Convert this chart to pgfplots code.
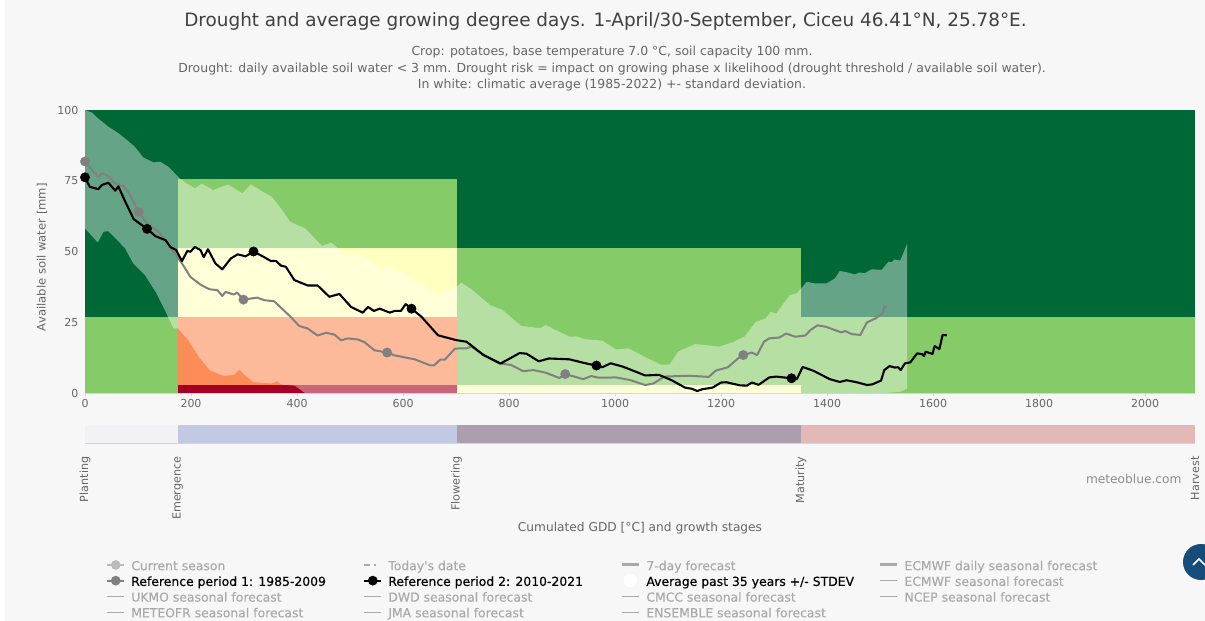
\documentclass[border=0pt]{standalone}
\usepackage{fontspec}
\usepackage{pgfplots}
\pgfplotsset{compat=1.18}
\setmainfont{DejaVu Sans}
\newfontfamily\legf[FakeBold=0.35]{DejaVu Sans}
\definecolor{pagebg}{HTML}{F7F7F7}
\definecolor{dkgreen}{HTML}{006837}
\definecolor{ltgreen}{HTML}{85CB67}
\definecolor{paleyel}{HTML}{FFFFBF}
\definecolor{orng}{HTML}{FC8D59}
\definecolor{dkred}{HTML}{A50026}
\definecolor{axl}{HTML}{CCD6EB}
\definecolor{txt}{HTML}{666666}
\definecolor{off}{HTML}{AAAAAA}
\definecolor{lin}{HTML}{808080}
\newcommand{\leg}[2]{\makebox[238pt][l]{\hspace*{6pt}\rule[-4pt]{0pt}{16pt}\textcolor{#1}{#2}}}
\pgfplotstableread{
x y
0 100
13 99.1
25 97
44 94.1
63 91.8
79 89.4
94 87
110 83.2
129 81.5
142 81.7
157 80
179 75.8
189 74.4
208 72.3
220 74
242 71.7
270 73.7
297 70.5
313 73.7
333 71.4
352 69.4
368 65.6
387 60.5
415 58.2
447 52
465 53.1
497 48.2
503 49.3
535 47.5
557 43.7
572 44.6
607 42
667 34.6
683 36.4
698 37
710 39
729 36.6
765 31
788 29.3
823 23.7
859 22.9
869 24
914 19.9
927 20
944 19
976 18.5
1002 15.4
1025 15.8
1054 13
1086 10
1103 10
1119 14.6
1151 17.3
1197 16.4
1223 18
1245 20
1265 25
1284 26.4
1294 28.7
1304 28
1311 29.9
1330 34.6
1343 35.2
1362 39.3
1377 38.7
1399 38.7
1415 40.5
1424 43.1
1437 42.7
1452 41.9
1462 42.6
1471 42.3
1484 43.7
1503 43.5
1516 46.4
1522 46.2
1527 47.2
1538 46.8
1544 49.4
1551 52.7
1551 1.6
1538 0.4
1510 0
415 0
396 2.6
371 3
362 4.2
352 3.4
318 3.8
302 6.3
291 8.3
280 6.3
261 6.1
236 8
217 12.2
195 18.7
175 22.8
167 22.8
154 28
135 35.2
113 41.7
91 45.8
75 51.3
44 57.2
35 57
24 53.2
0 58.2
}\bandtable
\pgfplotstableread{
x y
0 76.2
9 72.9
25 72
32 73.5
44 74.3
57 71.5
63 73
76 67.6
92 61.4
117 58
133 55.4
152 54
161 51.6
172 50.5
183 46.6
193 50.2
199 49.9
207 51.6
218 50.5
224 48
232 50.8
246 45.8
259 43.7
275 47.5
288 49
303 48.3
318 50
338 48
351 46.6
360 46.7
370 45
379 44.6
395 39.9
420 38
439 38
461 34
480 35
502 30.4
524 28.4
534 30.4
545 29
556 29.8
575 28.4
584 29
596 29
605 31.4
616 29.8
635 26.9
666 20.4
700 18.7
720 18.1
752 13.4
784 10.4
820 14.1
833 13.9
856 11.2
875 12.2
914 11.9
944 10.5
965 9.7
976 9.1
992 10.5
1015 9.3
1057 6.2
1083 6.4
1106 4.6
1132 1.9
1145 1.5
1155 0.7
1164 1.3
1184 1.9
1200 3.7
1210 3.8
1236 2.7
1249 2.6
1258 3.7
1271 2.9
1291 5.5
1304 5.8
1333 5.2
1343 4.9
1354 9.2
1375 7.8
1405 4.9
1424 3.9
1437 4.5
1456 3.8
1476 2.8
1486 3.1
1502 4.4
1508 8.1
1518 9.5
1528 9
1534 9.1
1539 8.1
1547 10.5
1557 10.8
1570 14
1580 13.7
1583 13
1586 14.6
1599 13.8
1603 16.6
1612 15.5
1618 20.5
1626 20.4
}\refb
\pgfplotstableread{
x y
0 81.8
13 78.8
25 76.4
32 77.6
41 77
57 74
73 73.1
85 70
101 64
117 60
139 57
152 54
167 49.9
183 45.8
199 41
218 38.3
234 36.7
250 36.3
259 34.3
265 35.7
281 34.8
287 35.5
299 33
325 33.7
338 32.8
357 32.4
388 26.9
404 23.7
420 22.8
439 20.3
455 21.3
471 20.6
483 18.6
496 19.3
515 18.9
527 18
546 15.1
570 14.3
584 13.3
622 11.9
651 9.8
659 9.8
670 11.8
679 11.8
698 15.7
720 15.8
729 16.4
752 13.4
781 10.5
804 9.9
827 7.7
846 8.1
869 7.2
895 5.3
906 6.7
940 4.9
955 6
969 5.4
1002 5.5
1028 4.6
1057 2.8
1073 3.4
1093 5.8
1138 6.1
1177 5.7
1190 7.9
1213 9.1
1232 12.2
1242 13.4
1258 14.3
1268 13.4
1281 18.1
1291 19.3
1310 19.6
1323 21
1340 19.9
1359 20.3
1369 22.3
1382 23.9
1398 23.4
1427 21.4
1434 21.9
1447 20.8
1463 20.5
1475 24.9
1492 26.4
1505 28.2
1508 30.5
1513 30.5
}\refa
\begin{document}
\begin{tikzpicture}[x=1pt,y=1pt]
\useasboundingbox (0,0) rectangle (1205,621);
\clip (0,0) rectangle (1205,621);
\fill[white] (0,0) rectangle (1205,621);
\fill[pagebg] (5,0) rectangle (1205,621);
\begin{axis}[
  at={(85pt,228pt)},anchor=south west,scale only axis,width=1110pt,height=283pt,
  xmin=0,xmax=2094.3,ymin=0,ymax=100,clip=false,
  axis x line*=bottom,axis y line*=left,
  x axis line style={draw=axl,-},y axis line style={draw=none,-},
  xtick={0,200,...,2000},ytick={0,25,50,75,100},
  xtick style={draw=axl},ytick style={draw=none},
  tick align=outside,major tick length=3pt,
  tick label style={font=\fontsize{11}{13}\selectfont,text=txt,/pgf/number format/assume math mode=true},
  scaled ticks=false,
  xticklabel style={/pgf/number format/1000 sep={}},
  ylabel={Available soil water [mm]},
  every axis y label/.style={at={(axis description cs:-0.0387,0.48)},rotate=90,anchor=center,font=\fontsize{11.6}{14}\selectfont,text=txt},
  legend columns=4,
  legend style={at={(axis description cs:0.0189,-0.583)},anchor=north west,draw=none,fill=none,inner sep=0pt,
    font=\fontsize{12.4}{14}\selectfont\legf,nodes={inner sep=0pt},row sep=2.2pt,column sep=0pt},
  legend cell align=left,
]
% risk matrix
\addplot[forget plot,draw=none,fill=dkgreen] coordinates {(0,0)(2094.3,0)(2094.3,100)(0,100)} --cycle;
\addplot[forget plot,draw=none,fill=ltgreen] coordinates {(0,0)(175,0)(175,27)(0,27)} --cycle;
\addplot[forget plot,draw=none,fill=ltgreen] coordinates {(1351,0)(2094.3,0)(2094.3,27)(1351,27)} --cycle;
\addplot[forget plot,draw=none,fill=ltgreen] coordinates {(175,51.3)(701,51.3)(701,75.5)(175,75.5)} --cycle;
\addplot[forget plot,draw=none,fill=ltgreen] coordinates {(701,3)(1351,3)(1351,51.3)(701,51.3)} --cycle;
\addplot[forget plot,draw=none,fill=paleyel] coordinates {(175,27)(701,27)(701,51.3)(175,51.3)} --cycle;
\addplot[forget plot,draw=none,fill=paleyel] coordinates {(701,0)(1351,0)(1351,3)(701,3)} --cycle;
\addplot[forget plot,draw=none,fill=orng] coordinates {(175,3)(701,3)(701,27)(175,27)} --cycle;
\addplot[forget plot,draw=none,fill=dkred] coordinates {(175,0)(701,0)(701,3)(175,3)} --cycle;
% average +/- stdev
\addplot[forget plot,draw=none,fill=white,fill opacity=0.4] table {\bandtable} --cycle;
% series
\addplot[forget plot,lin,line width=2pt,line join=round] table {\refa};
\addplot[forget plot,black,line width=2.1pt,line join=round] table {\refb};
\addplot[forget plot,only marks,mark=*,mark size=4.7pt,lin,mark options={fill=lin,draw=none}] coordinates {(0,81.8)(101,64)(299,33)(570,14.3)(906,6.7)(1242,13.4)};
\addplot[forget plot,only marks,mark=*,mark size=4.7pt,black,mark options={fill=black,draw=none}] coordinates {(0,76.2)(117,58)(318,50)(616,29.8)(965,9.7)(1333,5.2)};
% legend
\addlegendimage{off!80!white,line width=2pt,mark=*,mark size=3.8pt,mark options={draw=none,fill=off!80!white}}
\addlegendentry{\leg{off}{Current season}}
\addlegendimage{off,line width=1.6pt,dash pattern=on 6pt off 4pt on 2pt off 9pt}
\addlegendentry{\leg{off}{Today's date}}
\addlegendimage{off,line width=3pt}
\addlegendentry{\leg{off}{7-day forecast}}
\addlegendimage{off,line width=3pt}
\addlegendentry{\leg{off}{ECMWF daily seasonal forecast}}
\addlegendimage{lin,line width=2pt,mark=*,mark size=3.8pt,mark options={draw=none,fill=lin}}
\addlegendentry{\leg{black}{Reference period 1: 1985-2009}}
\addlegendimage{black,line width=2pt,mark=*,mark size=3.8pt,mark options={draw=none,fill=black}}
\addlegendentry{\leg{black}{Reference period 2: 2010-2021}}
\addlegendimage{only marks,mark=*,mark size=6.5pt,mark options={draw=white,fill=white}}
\addlegendentry{\leg{black}{Average past 35 years +/- STDEV}}
\addlegendimage{off,line width=0.7pt}
\addlegendentry{\leg{off}{ECMWF seasonal forecast}}
\addlegendimage{off,line width=0.7pt}
\addlegendentry{\leg{off}{UKMO seasonal forecast}}
\addlegendimage{off,line width=0.7pt}
\addlegendentry{\leg{off}{DWD seasonal forecast}}
\addlegendimage{off,line width=0.7pt}
\addlegendentry{\leg{off}{CMCC seasonal forecast}}
\addlegendimage{off,line width=0.7pt}
\addlegendentry{\leg{off}{NCEP seasonal forecast}}
\addlegendimage{off,line width=0.7pt}
\addlegendentry{\leg{off}{METEOFR seasonal forecast}}
\addlegendimage{off,line width=0.7pt}
\addlegendentry{\leg{off}{JMA seasonal forecast}}
\addlegendimage{off,line width=0.7pt}
\addlegendentry{\leg{off}{ENSEMBLE seasonal forecast}}
\end{axis}
\begin{axis}[
  at={(85pt,178pt)},anchor=south west,scale only axis,width=1110pt,height=18pt,
  xmin=0,xmax=2094.3,ymin=0,ymax=1,clip=false,
  axis x line*=bottom,axis y line=none,
  x axis line style={draw=axl,-},
  xtick={0,175,701,1351,2094.3},
  xticklabels={Planting,Emergence,Flowering,Maturity,Harvest},
  major tick length=0pt,
  xticklabel shift=10pt,
  xticklabel style={rotate=90,anchor=east,font=\fontsize{11.2}{13}\selectfont,text=txt},
]
\addplot[draw=none,fill={rgb,255:red,242;green,241;blue,244}] coordinates {(0,0)(175,0)(175,1)(0,1)} --cycle;
\addplot[draw=none,fill={rgb,255:red,193;green,201;blue,227}] coordinates {(175,0)(701,0)(701,1)(175,1)} --cycle;
\addplot[draw=none,fill={rgb,255:red,171;green,159;blue,174}] coordinates {(701,0)(1351,0)(1351,1)(701,1)} --cycle;
\addplot[draw=none,fill={rgb,255:red,227;green,185;blue,184}] coordinates {(1351,0)(2094.3,0)(2094.3,1)(1351,1)} --cycle;
\end{axis}
\node[anchor=center,text=black!75] at (605.5,600) {\fontsize{18.4}{20}\selectfont Drought and average growing degree days. 1-April/30-September, Ciceu 46.41°N, 25.78°E.};
\node[anchor=center,text=txt] at (612,568.5) {\fontsize{12.45}{14}\selectfont Crop: potatoes, base temperature 7.0 °C, soil capacity 100 mm.};
\node[anchor=center,text=txt] at (612,552) {\fontsize{12.45}{14}\selectfont Drought: daily available soil water < 3 mm. Drought risk = impact on growing phase x likelihood (drought threshold / available soil water).};
\node[anchor=center,text=txt] at (612,535.5) {\fontsize{12.45}{14}\selectfont In white: climatic average (1985-2022) +- standard deviation.};
\node[anchor=center,text=txt] at (640,92.5) {\fontsize{12.2}{14}\selectfont Cumulated GDD [°C] and growth stages};
\node[anchor=east,text=black!45] at (1185,142) {\fontsize{12.2}{14}\selectfont meteoblue.com};
\fill[fill={rgb,255:red,21;green,76;blue,121}] (1201,59) circle (18);
\draw[white,line width=1.6pt] (1193,56) -- (1199,62) -- (1205,56);
\end{tikzpicture}
\end{document}
